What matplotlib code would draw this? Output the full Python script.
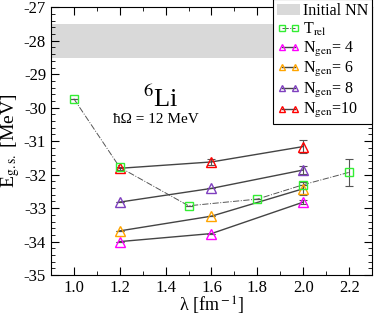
import matplotlib
matplotlib.use("Agg")
import matplotlib.pyplot as plt
from matplotlib.patches import Patch
from matplotlib.ticker import MultipleLocator, FormatStrFormatter

plt.rcParams['font.family'] = 'serif'
plt.rcParams['font.serif'] = ['Liberation Serif', 'DejaVu Serif']
plt.rcParams['mathtext.fontset'] = 'stix'
plt.rcParams['axes.unicode_minus'] = False

# datos
lam_trel = [1.0, 1.2, 1.5, 1.8, 2.0, 2.2]
e_trel = [-29.73, -31.78, -32.93, -32.73, -32.30, -31.93]
err_trel = [0, 0, 0, 0, 0, 0.41]

lam_gen = [1.2, 1.6, 2.0]
e_gen4 = [-34.0, -33.76, -32.82]
e_gen6 = [-33.68, -33.24, -32.42]
e_gen8 = [-32.82, -32.41, -31.86]
e_gen10 = [-31.81, -31.62, -31.16]
err_gen4 = [0, 0, 0.05]
err_gen6 = [0, 0, 0.2]
err_gen8 = [0, 0, 0.12]
err_gen10 = [0.05, 0.08, 0.2]

banda = (-28.5, -27.5)

fig = plt.figure(figsize=(3.74, 3.18), dpi=100)
ax = fig.add_axes([0.136, 0.135, 0.859, 0.842])

ax.axhspan(banda[0], banda[1], color='#d9d9d9', lw=0, zorder=0)

ax.errorbar(lam_trel, e_trel, yerr=err_trel, fmt='none', ecolor='#555555',
            elinewidth=0.8, capsize=3, capthick=0.8, zorder=2)
ax.plot(lam_trel, e_trel, color='#555555', lw=0.7, ls='-.', zorder=2)
ax.plot(lam_trel, e_trel, ls='none', marker='s', ms=6, mfc='none',
        mec='#33ee33', mew=1.0, zorder=4)

series = [(e_gen4, err_gen4, '#ff00ff'), (e_gen6, err_gen6, '#ffa500'),
          (e_gen8, err_gen8, '#7f3fbf'), (e_gen10, err_gen10, '#ff0000')]
for e, err, c in series:
    ax.errorbar(lam_gen, e, yerr=err, fmt='none', ecolor='#555555',
                elinewidth=0.8, capsize=3, capthick=0.8, zorder=2)
    ax.plot(lam_gen, e, color='#444444', lw=1.0, zorder=2)
    ax.plot(lam_gen, e, ls='none', marker='^', ms=7, mfc='none',
            mec=c, mew=1.0, zorder=3)

ax.set_xlim(0.9, 2.3)
ax.set_ylim(-35, -27)
ax.xaxis.set_major_locator(MultipleLocator(0.2))
ax.xaxis.set_minor_locator(MultipleLocator(0.1))
ax.yaxis.set_major_locator(MultipleLocator(1))
ax.yaxis.set_minor_locator(MultipleLocator(0.2))
ax.tick_params(which='both', direction='in', top=True, right=True, labelsize=12)
ax.tick_params(which='major', length=6)
ax.tick_params(which='minor', length=3)
ax.xaxis.set_major_formatter(FormatStrFormatter('%.1f'))

ax.set_xlabel('λ [fm$^{\\rm -1}$]', fontsize=13, labelpad=-1)
ax.set_ylabel(r'E$_{\rm g.s.}$ [MeV]', fontsize=14, labelpad=1)

ax.text(1.38, -29.97, r'$^{6}$Li', fontsize=19, ha='center', va='baseline')
ax.text(1.357, -30.45, 'ħΩ = 12 MeV', fontsize=11, ha='center', va='baseline')

handles = [Patch(facecolor='#d9d9d9', edgecolor='none')]
handles.append(plt.Line2D([], [], color='#555555', lw=0.7, ls='-.', marker='s',
                          ms=4.5, mfc='none', mec='#33ee33'))
for e, err, c in series:
    handles.append(plt.Line2D([], [], color='#444444', lw=1.0, marker='^',
                              ms=5, mfc='none', mec=c))
labels = ['Initial NN', r'T$_{\rm rel}$', r'N$_{\rm gen}$= 4', r'N$_{\rm gen}$= 6',
          r'N$_{\rm gen}$= 8', r'N$_{\rm gen}$=10']
leg = ax.legend(handles, labels, loc='upper right', bbox_to_anchor=(1.0, 1.03),
                numpoints=2, fontsize=11.5, fancybox=False, framealpha=1,
                edgecolor='black', handlelength=1.4, handletextpad=0.2,
                labelspacing=0.1, borderpad=0.25, borderaxespad=0)
leg.get_frame().set_linewidth(0.8)

fig.savefig('out.png', dpi=100)
